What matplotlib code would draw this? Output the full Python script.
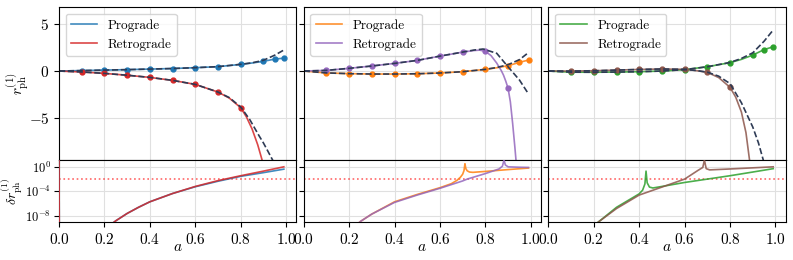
import numpy as np
import matplotlib
matplotlib.use("Agg")
import matplotlib.pyplot as plt

plt.rcParams["font.family"] = "serif"
plt.rcParams["font.serif"] = ["cmr10", "DejaVu Serif"]
plt.rcParams["mathtext.fontset"] = "cm"
plt.rcParams["axes.formatter.use_mathtext"] = True
plt.rcParams["font.size"] = 11

dash_col = "#2e3b55"

# ---------------- panel 1 : blue / red ----------------
a1_pro = [0, 0.1, 0.2, 0.3, 0.4, 0.5, 0.6, 0.7, 0.8, 0.85, 0.9, 0.95, 0.99]
r1_pro = [0, 0.05, 0.1, 0.15, 0.21, 0.27, 0.36, 0.47, 0.71, 0.86, 1.04, 1.28, 1.38]
a1_pro_ap = [0, 0.1, 0.2, 0.3, 0.4, 0.5, 0.6, 0.7, 0.8, 0.85, 0.9, 0.95, 0.99]
r1_pro_ap = [0, 0.05, 0.1, 0.15, 0.21, 0.27, 0.36, 0.47, 0.72, 0.88, 1.15, 1.7, 2.25]
a1_ret = [0, 0.1, 0.2, 0.3, 0.4, 0.5, 0.6, 0.7, 0.75, 0.8, 0.825, 0.85, 0.875, 0.895, 0.91]
r1_ret = [0, -0.1, -0.25, -0.45, -0.68, -1.0, -1.43, -2.25, -2.9, -3.93, -4.9, -6.2, -7.9, -9.6, -11]
a1_ret_ap = [0, 0.1, 0.2, 0.3, 0.4, 0.5, 0.6, 0.7, 0.75, 0.8, 0.84, 0.88, 0.9, 0.92, 0.942, 0.96]
r1_ret_ap = [0, -0.1, -0.25, -0.45, -0.68, -1.0, -1.43, -2.25, -2.85, -3.85, -5.2, -6.9, -7.7, -8.6, -9.6, -10.5]
a1_dot_pro = [0.1, 0.2, 0.3, 0.4, 0.5, 0.6, 0.7, 0.8, 0.9, 0.95, 0.99]
r1_dot_pro = [0.05, 0.1, 0.15, 0.21, 0.27, 0.36, 0.47, 0.71, 1.04, 1.28, 1.38]
a1_dot_ret = [0.1, 0.2, 0.3, 0.4, 0.5, 0.6, 0.7, 0.8]
r1_dot_ret = [-0.1, -0.25, -0.45, -0.68, -1.0, -1.43, -2.25, -3.93]
a1_err = [0, 0.002, 0.2, 0.25, 0.3, 0.35, 0.4, 0.5, 0.6, 0.7, 0.8, 0.9, 0.99]
lg1_err_pro = [3, -20, -10.2, -8.8, -7.6, -6.6, -5.7, -4.35, -3.25, -2.35, -1.55, -0.95, -0.38]
lg1_err_ret = [3, -20, -10.2, -8.8, -7.6, -6.6, -5.7, -4.35, -3.2, -2.25, -1.45, -0.7, 0.0]

# ---------------- panel 2 : orange / purple ----------------
a2_pro = [0, 0.1, 0.2, 0.3, 0.4, 0.5, 0.6, 0.7, 0.8, 0.85, 0.9, 0.95, 0.99]
r2_pro = [0, -0.2, -0.28, -0.32, -0.32, -0.29, -0.21, -0.07, 0.18, 0.35, 0.57, 0.93, 1.18]
a2_pro_ap = [0, 0.1, 0.2, 0.3, 0.4, 0.5, 0.6, 0.7, 0.8, 0.85, 0.9, 0.95, 0.99]
r2_pro_ap = [0, -0.2, -0.28, -0.32, -0.32, -0.29, -0.21, -0.07, 0.18, 0.38, 0.68, 1.22, 1.98]
a2_ret = [0, 0.1, 0.2, 0.3, 0.4, 0.5, 0.6, 0.7, 0.75, 0.775, 0.8, 0.825, 0.85, 0.87,
          0.88, 0.89, 0.9, 0.91, 0.92, 0.93, 0.94]
r2_ret = [0, 0.07, 0.29, 0.54, 0.82, 1.14, 1.6, 2.03, 2.2, 2.24, 2.11, 1.65, 0.85, 0.05,
          -0.45, -1.1, -1.85, -3.3, -5.6, -8.2, -11]
a2_ret_ap = [0, 0.1, 0.2, 0.3, 0.4, 0.5, 0.6, 0.7, 0.75, 0.79, 0.85, 0.9, 0.95, 0.99]
r2_ret_ap = [0, 0.07, 0.29, 0.54, 0.82, 1.14, 1.6, 2.03, 2.25, 2.36, 1.9, 0.45, -0.96, -2.46]
a2_dot_pro = [0.1, 0.2, 0.3, 0.4, 0.5, 0.6, 0.7, 0.8, 0.9, 0.95, 0.99]
r2_dot_pro = [-0.2, -0.28, -0.32, -0.32, -0.29, -0.21, -0.07, 0.18, 0.57, 0.93, 1.18]
a2_dot_ret = [0.1, 0.2, 0.3, 0.4, 0.5, 0.6, 0.7, 0.8, 0.9]
r2_dot_ret = [0.07, 0.29, 0.54, 0.82, 1.14, 1.6, 2.03, 2.11, -1.85]
a2_err_pro = [0.2, 0.25, 0.3, 0.4, 0.5, 0.6, 0.65, 0.675, 0.69, 0.7, 0.706, 0.71,
              0.714, 0.72, 0.73, 0.745, 0.8, 0.9, 0.99]
lg2_err_pro = [-10.5, -8.9, -7.7, -5.7, -4.5, -3.4, -2.75, -2.2, -1.7, -1.2, -0.6, 0.5,
               -0.3, -0.65, -0.85, -0.9, -0.75, -0.45, -0.2]
a2_err_ret = [0.2, 0.25, 0.3, 0.4, 0.5, 0.6, 0.7, 0.72, 0.8, 0.86, 0.875, 0.882,
              0.888, 0.9, 0.95, 0.99]
lg2_err_ret = [-10.5, -8.9, -7.7, -5.8, -4.6, -3.5, -2.3, -2.0, -1.1, -0.35, 0.1, 1.1,
               0.3, 0.0, -0.07, -0.1]

# ---------------- panel 3 : green / brown ----------------
a3_pro = [0, 0.1, 0.2, 0.3, 0.4, 0.5, 0.6, 0.7, 0.8, 0.85, 0.9, 0.95, 0.99]
r3_pro = [0, -0.12, -0.13, -0.11, -0.07, 0.0, 0.15, 0.46, 0.9, 1.25, 1.71, 2.3, 2.6]
a3_pro_ap = [0, 0.1, 0.2, 0.3, 0.4, 0.5, 0.6, 0.7, 0.8, 0.85, 0.9, 0.95, 0.99]
r3_pro_ap = [0, -0.12, -0.13, -0.11, -0.07, 0.0, 0.15, 0.46, 0.92, 1.35, 1.95, 3.2, 4.4]
a3_ret = [0, 0.1, 0.2, 0.3, 0.4, 0.5, 0.6, 0.65, 0.7, 0.75, 0.8, 0.825, 0.85, 0.87,
          0.885, 0.9]
r3_ret = [0, 0.0, 0.03, 0.1, 0.17, 0.22, 0.18, 0.05, -0.14, -0.7, -1.75, -2.8, -4.4,
          -6.6, -9.4, -12]
a3_ret_ap = [0, 0.1, 0.2, 0.3, 0.4, 0.5, 0.6, 0.65, 0.7, 0.75, 0.8, 0.85, 0.9, 0.925,
             0.947, 0.96]
r3_ret_ap = [0, 0.0, 0.03, 0.1, 0.17, 0.22, 0.18, 0.06, -0.12, -0.55, -1.35, -3.4,
             -6.0, -7.7, -9.6, -11]
a3_dot_pro = [0.1, 0.2, 0.3, 0.4, 0.5, 0.6, 0.7, 0.8, 0.9, 0.95, 0.99]
r3_dot_pro = [-0.12, -0.13, -0.11, -0.07, 0.0, 0.15, 0.46, 0.9, 1.71, 2.3, 2.6]
a3_dot_ret = [0.1, 0.2, 0.3, 0.4, 0.5, 0.6, 0.7, 0.8]
r3_dot_ret = [0.0, 0.03, 0.1, 0.17, 0.22, 0.18, -0.14, -1.75]
a3_err_pro = [0.18, 0.22, 0.3, 0.4, 0.415, 0.425, 0.43, 0.435, 0.445, 0.46, 0.5, 0.6,
              0.7, 0.8, 0.9, 0.99]
lg3_err_pro = [-10.2, -9.0, -6.6, -4.4, -3.8, -2.8, -0.7, -2.6, -3.3, -3.45, -3.2,
               -2.55, -2.0, -1.45, -0.85, -0.3]
a3_err_ret = [0.18, 0.22, 0.3, 0.4, 0.5, 0.6, 0.66, 0.68, 0.687, 0.695, 0.71, 0.8, 0.99]
lg3_err_ret = [-10.2, -9.0, -6.8, -4.6, -3.3, -2.0, -0.55, -0.1, 1.1, -0.3, -0.5,
               -0.35, 0.0]

panels = [
    ("C0", "C3", a1_pro, r1_pro, a1_pro_ap, r1_pro_ap, a1_ret, r1_ret, a1_ret_ap, r1_ret_ap,
     a1_dot_pro, r1_dot_pro, a1_dot_ret, r1_dot_ret,
     a1_err, lg1_err_pro, a1_err, lg1_err_ret),
    ("C1", "C4", a2_pro, r2_pro, a2_pro_ap, r2_pro_ap, a2_ret, r2_ret, a2_ret_ap, r2_ret_ap,
     a2_dot_pro, r2_dot_pro, a2_dot_ret, r2_dot_ret,
     a2_err_pro, lg2_err_pro, a2_err_ret, lg2_err_ret),
    ("C2", "C5", a3_pro, r3_pro, a3_pro_ap, r3_pro_ap, a3_ret, r3_ret, a3_ret_ap, r3_ret_ap,
     a3_dot_pro, r3_dot_pro, a3_dot_ret, r3_dot_ret,
     a3_err_pro, lg3_err_pro, a3_err_ret, lg3_err_ret),
]

fig = plt.figure(figsize=(7.93, 2.6), dpi=100)
gs = fig.add_gridspec(2, 3, height_ratios=[2.47, 1], hspace=0, wspace=0.031,
                      left=0.0744, right=0.9908, top=0.973, bottom=0.146)

top0 = None
bot0 = None
for i, p in enumerate(panels):
    (cp, cr, ap, rp, apa, rpa, ar, rr, ara, rra, adp, rdp, adr, rdr,
     aep, lep, aer, ler) = p
    ax = fig.add_subplot(gs[0, i], sharey=top0)
    axb = fig.add_subplot(gs[1, i], sharex=ax, sharey=bot0)
    if i == 0:
        top0, bot0 = ax, axb

    ax.plot(ap, rp, color=cp, lw=1.2, alpha=0.85, label="Prograde")
    ax.plot(ar, rr, color=cr, lw=1.2, alpha=0.85, label="Retrograde")
    ax.plot(adp, rdp, "o", color=cp, ms=3.5)
    ax.plot(adr, rdr, "o", color=cr, ms=3.5)
    ax.plot(apa, rpa, "--", color=dash_col, lw=1.2)
    ax.plot(ara, rra, "--", color=dash_col, lw=1.2)
    ax.legend(loc="upper left", fontsize=9.5, handlelength=2.0)
    ax.grid(True, color="0.88", lw=0.8)
    ax.set_ylim(-9.54, 6.86)
    ax.set_xlim(0, 1.045)
    ax.tick_params(labelbottom=False)

    axb.semilogy(aep, 10.0 ** np.array(lep), color=cp, lw=1.2, alpha=0.85, zorder=3)
    axb.semilogy(aer, 10.0 ** np.array(ler), color=cr, lw=1.2, alpha=0.85, zorder=3)
    axb.axhline(1e-2, color="red", ls=":", lw=1.2, alpha=0.6)
    axb.grid(True, color="0.88", lw=0.8)
    axb.set_ylim(1e-9, 10 ** 1.1)
    axb.set_yticks([1e-8, 1e-4, 1e0])
    axb.yaxis.set_minor_locator(matplotlib.ticker.NullLocator())
    axb.tick_params(axis="y", labelsize=9, pad=2)
    axb.set_xticks([0.0, 0.2, 0.4, 0.6, 0.8, 1.0])
    axb.set_xlabel(r"$a$")
    axb.xaxis.set_label_coords(0.5, -0.30)

    if i == 0:
        ax.set_yticks([-5, 0, 5])
        ax.set_ylabel(r"$r^{(1)}_{\rm ph}$")
        ax.yaxis.set_label_coords(-0.118, 0.5)
        axb.set_ylabel(r"$\delta r^{(1)}_{\rm ph}$", fontsize=10)
        axb.yaxis.set_label_coords(-0.142, 0.5)
    else:
        ax.tick_params(labelleft=False)
        axb.tick_params(labelleft=False)

fig.savefig("out.png", dpi=100)
